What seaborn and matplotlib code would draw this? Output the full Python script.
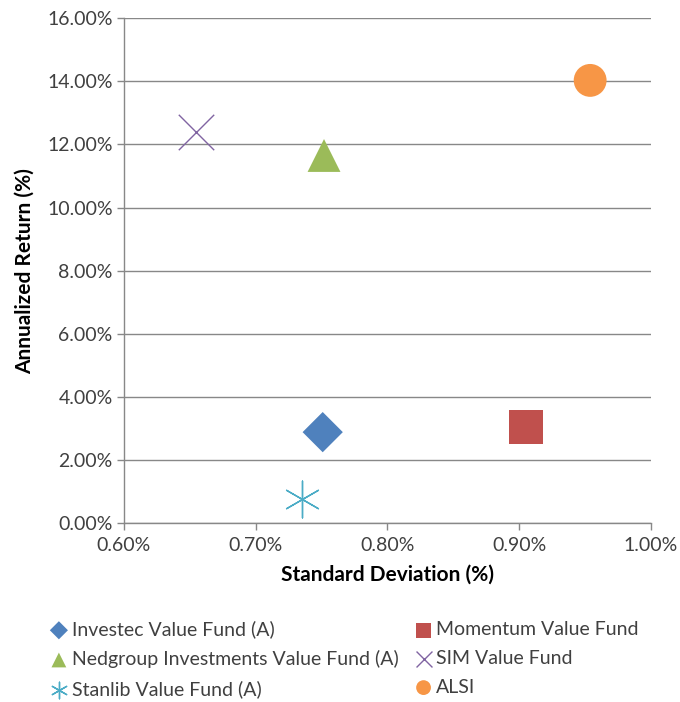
import matplotlib
matplotlib.use("Agg")
import matplotlib.pyplot as plt
import seaborn as sns
import pandas as pd
from matplotlib.ticker import FuncFormatter

sns.set_style("white")
plt.rcParams["font.family"] = ["Lato", "DejaVu Sans"]

# fund data
funds = ["Investec Value Fund (A)", "Momentum Value Fund",
         "Nedgroup Investments Value Fund (A)", "SIM Value Fund",
         "Stanlib Value Fund (A)", "ALSI"]
std_dev = [0.751, 0.905, 0.752, 0.655, 0.735, 0.954]
ann_return = [2.88, 3.03, 11.65, 12.38, 0.75, 14.03]

colors = ["#4F81BD", "#C0504D", "#9BBB59", "#8064A2", "#4BACC6", "#F79646"]
markers = ["D", "s", "^", "x", (6, 2, 0), "o"]
sizes = [420, 600, 560, 650, 700, 560]

df = pd.DataFrame({"Fund": funds, "Std": std_dev, "Ret": ann_return})

fig = plt.figure(figsize=(6.8, 7.02), dpi=100)
ax = fig.add_axes([0.182, 0.255, 0.775, 0.719])

for i, row in df.iterrows():
    filled = markers[i] not in ("x", (6, 2, 0))
    kw = dict(edgecolor="none") if filled else dict(linewidth=1.0)
    sns.scatterplot(x=[row["Std"]], y=[row["Ret"]], ax=ax, marker=markers[i],
                    color=colors[i], s=sizes[i], label=row["Fund"], zorder=3, **kw)

ax.set_xlim(0.6, 1.0)
ax.set_ylim(0, 16)
ax.set_xticks([0.6, 0.7, 0.8, 0.9, 1.0])
ax.set_yticks(range(0, 17, 2))
ax.xaxis.set_major_formatter(FuncFormatter(lambda v, p: f"{v:.2f}%"))
ax.yaxis.set_major_formatter(FuncFormatter(lambda v, p: f"{v:.2f}%"))
ax.tick_params(axis="both", labelsize=14, colors="#404040", length=5,
               width=1, direction="out", bottom=True, left=True)
ax.tick_params(axis="x", color="#888888", pad=5)
ax.tick_params(axis="y", color="#888888", pad=3)

ax.grid(axis="y", color="#888888", linewidth=1)
ax.grid(axis="x", visible=False)
ax.set_axisbelow(True)
sns.despine(ax=ax)
for s in ["left", "bottom"]:
    ax.spines[s].set_color("#888888")
    ax.spines[s].set_linewidth(1)

ax.set_xlabel("Standard Deviation (%)", fontsize=15, fontweight="bold",
              labelpad=8, color="black")
ax.set_ylabel("Annualized Return (%)", fontsize=15, fontweight="bold",
              labelpad=9, color="black")

# legend below the plot, two columns filled row by row like the original
handles, labels = ax.get_legend_handles_labels()
ax.get_legend().remove()
order = [0, 2, 4, 1, 3, 5]
fig.legend([handles[i] for i in order], [labels[i] for i in order],
           ncol=2, loc="upper left", bbox_to_anchor=(0.058, 0.13),
           frameon=False, fontsize=14, markerscale=0.45, borderpad=0,
           handletextpad=0.15, columnspacing=0.8, labelspacing=0.6,
           handlelength=1.0, labelcolor="#404040")

fig.savefig("out.png", dpi=100)
